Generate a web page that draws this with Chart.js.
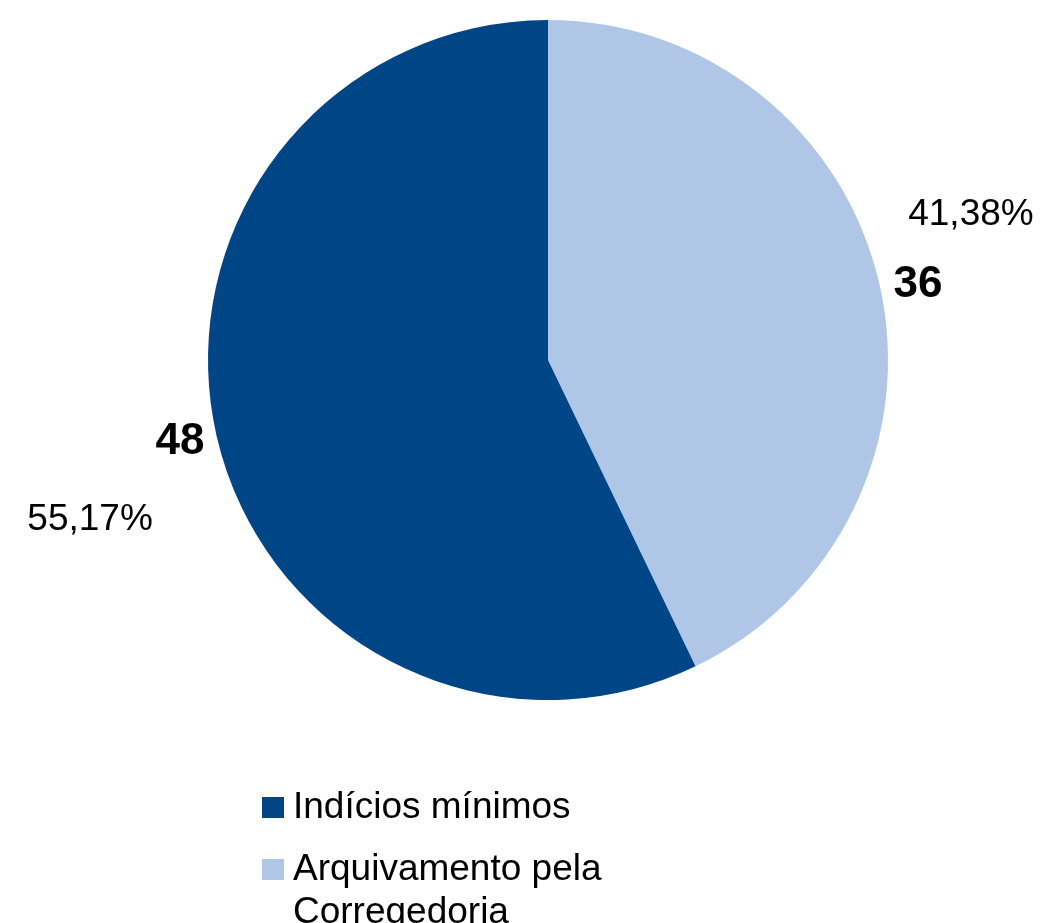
<!DOCTYPE html>
<html>
<head>
<meta charset="utf-8">
<script src="https://cdn.jsdelivr.net/npm/chart.js@4"></script>
<style>
  html, body { margin: 0; padding: 0; background: #fff; }
  canvas { display: block; }
</style>
</head>
<body>
<canvas id="myChart" width="1041" height="923"></canvas>
<script>
const categories = ['Arquivamento pela Corregedoria', 'Indícios mínimos'];
const legendLines = [['Arquivamento pela', 'Corregedoria'], ['Indícios mínimos']];
const values = [36, 48];
const percentLabels = ['41,38%', '55,17%'];
const colors = ['#afc6e6', '#004586'];

// nudges for the value text and the percent text (layout only)
const valueOffset = [[2, 9], [0, -2]];
const pctOffset = [[53, -70], [-90, 78]];

const labelPlugin = {
    id: 'labels',
    afterDraw(chart) {
        const c = chart.ctx;
        const meta = chart.getDatasetMeta(0);
        c.save();
        c.fillStyle = '#000';
        c.textAlign = 'center';
        c.textBaseline = 'middle';
        meta.data.forEach((arc, i) => {
            const mid = (arc.startAngle + arc.endAngle) / 2;
            const r = arc.outerRadius * 1.11;
            const x = arc.x + Math.cos(mid) * r + valueOffset[i][0];
            const y = arc.y + Math.sin(mid) * r + valueOffset[i][1];
            c.font = 'bold 44px "Liberation Sans", Arial, sans-serif';
            c.fillText(String(values[i]), x, y);
            c.font = '37px "Liberation Sans", Arial, sans-serif';
            c.fillText(percentLabels[i], x + pctOffset[i][0], y + pctOffset[i][1]);
        });

        // legend, reversed order, vertical
        c.textAlign = 'left';
        c.textBaseline = 'alphabetic';
        c.font = '37px "Liberation Sans", Arial, sans-serif';
        let baseY = 818;
        for (let i = categories.length - 1; i >= 0; i--) {
            c.fillStyle = colors[i];
            c.fillRect(262, baseY - 21, 22, 21);
            c.fillStyle = '#000';
            legendLines[i].forEach((line, k) => {
                c.fillText(line, 293, baseY + k * 43);
            });
            baseY += legendLines[i].length * 43 + 19;
        }
        c.restore();
    }
};

const ctx = document.getElementById('myChart').getContext('2d');
const myChart = new Chart(ctx, {
    type: 'pie',
    data: {
        labels: categories,
        datasets: [{
            data: values,
            backgroundColor: colors,
            borderWidth: 0
        }]
    },
    options: {
        responsive: false,
        animation: false,
        layout: {
            padding: { top: 20, bottom: 223, left: 208, right: 153 }
        },
        plugins: {
            legend: { display: false },
            tooltip: { enabled: false }
        }
    },
    plugins: [labelPlugin]
});
</script>
</body>
</html>
